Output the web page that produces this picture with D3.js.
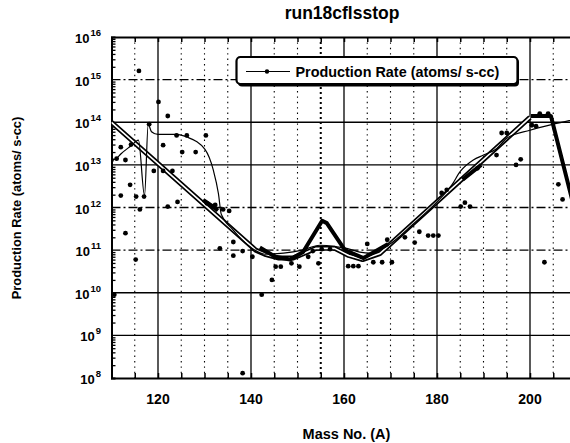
<!DOCTYPE html>
<html>
<head>
<meta charset="utf-8">
<script src="https://cdn.jsdelivr.net/npm/d3@7"></script>
<style>
body { margin: 0; background: #fff; }
svg { display: block; font-family: "Liberation Sans", Arial, sans-serif; font-weight: bold; }
</style>
</head>
<body>
<svg id="chart"></svg>
<script>
// scattered points
const dotMass = [110.0, 111.1, 112.0, 113.0, 114.2, 114.0, 112.0, 115.3, 117.0, 115.9,
    120.1, 122.1, 118.1, 121.1, 124.0, 126.2, 130.3, 125.2, 128.1, 119.1,
    121.1, 123.1, 124.2, 122.1, 116.1, 113.0, 115.2, 110.6, 138.2, 133.3,
    136.2, 136.2, 138.2, 140.3, 134.0, 135.3, 131.9, 130.5, 132.3, 142.3,
    144.5, 145.3, 146.4, 148.7, 150.4, 152.3, 153.3, 154.5, 155.2, 157.0,
    160.9, 162.0, 163.1, 165.0, 166.3, 168.2, 170.3, 169.3, 173.1, 175.2,
    176.2, 178.1, 179.2, 180.3, 181.0, 182.1, 185.1, 186.0, 187.1, 188.7,
    192.8, 197.0, 198.0, 193.9, 195.0, 200.4, 201.3, 202.1, 203.9, 206.1,
    207.0, 203.1]
const dotRate = [1.3e13, 1.4e13, 2.6e13, 1.3e13, 3.0e13, 3.4e12, 1.9e12, 1.8e12, 1.8e12, 1.6e15,
    3.0e14, 1.4e14, 9.0e13, 2.9e13, 4.9e13, 4.9e13, 4.9e13, 2.0e13, 2.0e13, 7.2e12,
    7.2e12, 7.2e12, 1.35e12, 1.05e12, 9e11, 2.5e11, 6e10, 9e9, 1.3e8, 1.1e11,
    1.55e11, 7.4e10, 9.5e10, 7e10, 9e11, 8.3e11, 1.05e12, 1.25e12, 1.15e12, 9e9,
    2e10, 4.1e10, 4.1e10, 4.9e10, 4.1e10, 7e10, 9.5e10, 4.9e10, 1.05e11, 1.05e11,
    4.2e10, 4.2e10, 4.2e10, 1.4e11, 5.2e10, 5.2e10, 5.2e10, 1.75e11, 2e11, 1.5e11,
    2.7e11, 2.2e11, 2.2e11, 2.2e11, 2.2e12, 2.6e12, 1.05e12, 1.3e12, 1.05e12, 8.3e12,
    1.7e13, 1e13, 1.35e13, 5.6e13, 5.6e13, 8.5e13, 8.1e13, 1.6e14, 1.6e14, 3.5e12,
    1.55e12, 5.2e10]

// thin line
const thinMass = [110, 111, 112, 114.2, 115.8, 117.1, 117.9, 118.6, 120, 124, 126.2, 130.1,
    131.9, 133, 133.6, 136, 140, 143, 147, 151, 154.8, 158.4, 160.6, 163.4, 165.6,
    169.5, 175, 180, 183.2, 185, 187.8, 190, 192.8, 195, 200, 205, 210]
const thinRate = [1.3e13, 1.4e13, 1.8e13, 2.8e13, 3.8e13, 1.9e12, 9e13, 6e13, 5.2e13, 5.2e13, 4.5e13, 2.3e13,
    7.5e12, 2.1e12, 7e11, 3.1e11, 1.15e11, 8e10, 8.5e10, 1.0e11, 1.3e11, 1.2e11, 1.1e11, 9e10, 8.5e10,
    1.3e11, 4.2e11, 1.35e12, 3.4e12, 7e12, 1.3e13, 1.7e13, 2.4e13, 4.2e13, 6.5e13, 9e13, 1.2e14]

// double (hollow) line
const doubleMass = [110, 141, 143, 146, 149, 151, 154, 158, 161, 164, 167.7, 200]
const doubleRate = [1e14, 1e11, 8e10, 6.5e10, 6.5e10, 8e10, 1.1e11, 1.1e11, 7.5e10, 6e10, 8.3e10, 1.3e14]

// thick line (null = gap)
const thickMass = [129.7, 131.3, 132.9, 136, 141.9, 145.2, 148.4, 151.2, 155.3, 156.3, 160.2, 164.2,
    169.5, 175, 185.5, 189.5, 195, 200.2, 204.5, 210]
const thickRate = [1.5e12, 1.15e12, 8.5e11, null, 1.15e11, 7e10, 6e10, 9e10, 4.9e11, 4.3e11, 1e11, 6.5e10,
    1.4e11, null, 4.5e12, 1e13, null, 1.4e14, 1.4e14, 6e11]

const xLabels = [120, 140, 160, 180, 200]
const decades = [8, 9, 10, 11, 12, 13, 14, 15, 16]

var width = 570, height = 443

var svg = d3.select("#chart")
    .attr("width", width)
    .attr("height", height)

var x = d3.scaleLinear().domain([110, 210]).range([111.5, 576.5])
var y = d3.scaleLog().domain([1e8, 1e16]).range([378, 37])

svg.append("clipPath").attr("id", "plot")
    .append("rect")
    .attr("x", x(110)).attr("y", y(1e16))
    .attr("width", x(210) - x(110)).attr("height", y(1e8) - y(1e16))

var grid = svg.append("g")

// vertical grid lines
d3.range(115, 210, 5).forEach(function (m) {
    var major = m % 20 == 0
    grid.append("line")
        .attr("x1", x(m)).attr("x2", x(m))
        .attr("y1", y(1e16)).attr("y2", y(1e8))
        .attr("stroke", "#000")
        .attr("stroke-width", major ? 1.3 : (m == 155 ? 2 : 1.1))
        .attr("stroke-dasharray", major ? null : (m == 155 ? "2,3" : "1.4,4"))
})

// horizontal grid lines
var dashDot = {11: "9,3,2,3", 12: "9,3,2,3", 15: "9,3,2,3"}
decades.slice(1, -1).forEach(function (e) {
    grid.append("line")
        .attr("x1", x(110)).attr("x2", x(210))
        .attr("y1", y(Math.pow(10, e))).attr("y2", y(Math.pow(10, e)))
        .attr("stroke", "#000")
        .attr("stroke-width", 1.3)
        .attr("stroke-dasharray", dashDot[e] || null)
})

// axes
var minors = []
decades.slice(0, -1).forEach(function (e) {
    for (var k = 2; k < 10; k++) minors.push(k * Math.pow(10, e))
})
svg.append("g")
    .attr("transform", "translate(" + x(110) + ",0)")
    .call(d3.axisLeft(y).tickValues(minors).tickSize(-4).tickFormat(""))
    .call(g => g.selectAll("path, line").attr("stroke", "#000").attr("stroke-width", 1.3))
    .select(".domain").attr("stroke-width", 2)

svg.append("g")
    .attr("transform", "translate(0," + y(1e8) + ")")
    .call(d3.axisBottom(x).tickValues(d3.range(110, 211, 5)).tickSize(-5).tickFormat(""))
    .call(g => g.selectAll("path, line").attr("stroke", "#000").attr("stroke-width", 1.5))
    .select(".domain").attr("stroke-width", 2)

svg.append("g")
    .attr("transform", "translate(0," + y(1e16) + ")")
    .call(d3.axisTop(x).tickValues(d3.range(110, 211, 5)).tickSize(-5).tickFormat(""))
    .call(g => g.selectAll("path, line").attr("stroke", "#000").attr("stroke-width", 1.5))
    .select(".domain").attr("stroke-width", 2)

// tick labels
svg.append("g").selectAll("text")
    .data(xLabels)
    .enter()
    .append("text")
    .attr("x", d => x(d))
    .attr("y", 404)
    .attr("text-anchor", "middle")
    .attr("font-size", "14px")
    .text(d => d)

var yl = svg.append("g").selectAll("text")
    .data(decades)
    .enter()
    .append("text")
    .attr("x", 101)
    .attr("y", d => y(Math.pow(10, d)) + 6)
    .attr("text-anchor", "end")
    .attr("font-size", "13px")
yl.append("tspan").text("10")
yl.append("tspan").attr("dx", 1).attr("dy", -7).attr("font-size", "9.5px").text(d => d)

var plot = svg.append("g").attr("clip-path", "url(#plot)")

function series(mass, rate) {
    return mass.map((m, i) => ({m: m, v: rate[i]}))
}
var line = d3.line()
    .defined(d => d.v != null)
    .x(d => x(d.m))
    .y(d => y(d.v))

// double line: black with white center
plot.append("path")
    .datum(series(doubleMass, doubleRate))
    .attr("d", line)
    .attr("fill", "none").attr("stroke", "#000").attr("stroke-width", 5)
    .attr("stroke-linejoin", "round")
plot.append("path")
    .datum(series(doubleMass, doubleRate))
    .attr("d", line)
    .attr("fill", "none").attr("stroke", "#fff").attr("stroke-width", 1.6)
    .attr("stroke-linejoin", "round")

plot.append("path")
    .datum(series(thickMass, thickRate))
    .attr("d", line)
    .attr("fill", "none").attr("stroke", "#000").attr("stroke-width", 4)
    .attr("stroke-linejoin", "round")

plot.append("path")
    .datum(series(thinMass, thinRate))
    .attr("d", d3.line().curve(d3.curveMonotoneX).x(d => x(d.m)).y(d => y(d.v)))
    .attr("fill", "none").attr("stroke", "#000").attr("stroke-width", 1.2)

plot.selectAll(".dot")
    .data(series(dotMass, dotRate))
    .enter()
    .append("circle")
    .attr("class", "dot")
    .attr("cx", d => x(d.m))
    .attr("cy", d => y(d.v))
    .attr("r", 2.4)
    .attr("fill", "#000")

// legend
var lg = svg.append("g")
lg.append("rect")
    .attr("x", 238).attr("y", 58.5).attr("width", 281).attr("height", 28).attr("rx", 4)
    .attr("fill", "#000")
lg.append("rect")
    .attr("x", 236.5).attr("y", 57).attr("width", 281).attr("height", 27).attr("rx", 4)
    .attr("fill", "#fff").attr("stroke", "#000").attr("stroke-width", 2.2)
lg.append("line")
    .attr("x1", 246).attr("x2", 290).attr("y1", 71.5).attr("y2", 71.5)
    .attr("stroke", "#000").attr("stroke-width", 1.2)
lg.append("circle").attr("cx", 267).attr("cy", 71.5).attr("r", 2.2).attr("fill", "#000")
lg.append("text")
    .attr("x", 295.5).attr("y", 76.5)
    .attr("font-size", "14.4px")
    .text("Production Rate (atoms/ s-cc)")

// titles
svg.append("text")
    .attr("x", 342).attr("y", 19)
    .attr("text-anchor", "middle")
    .attr("font-size", "17.5px")
    .text("run18cflsstop")

svg.append("text")
    .attr("x", 346.5).attr("y", 439)
    .attr("text-anchor", "middle")
    .attr("font-size", "14.5px")
    .text("Mass No. (A)")

svg.append("text")
    .attr("transform", "translate(21,208) rotate(-90)")
    .attr("text-anchor", "middle")
    .attr("font-size", "12.9px")
    .text("Production Rate (atoms/ s-cc)")
</script>
</body>
</html>
